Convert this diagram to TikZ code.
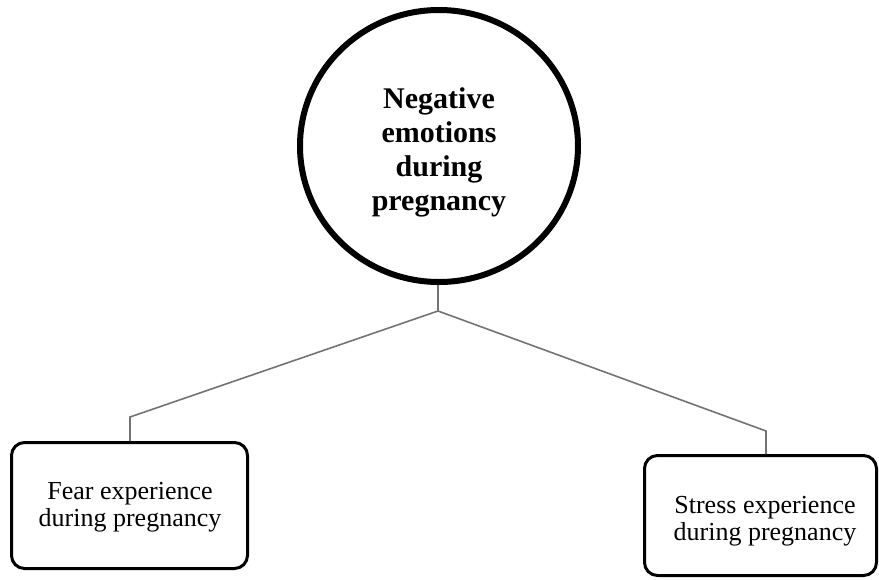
\documentclass[tikz,border=0pt]{standalone}
\usepackage{fontspec}
\setmainfont{Liberation Serif}
\usetikzlibrary{shapes.geometric}
\begin{document}
\begin{tikzpicture}[x=1pt,y=-1pt,
  mainnode/.style={draw=black, line width=6pt, ellipse, minimum width=278pt, minimum height=272pt, inner sep=0pt},
  maintext/.style={align=center, inner sep=0pt, font=\fontsize{30}{34}\selectfont\bfseries},
  leafbox/.style={draw=black, line width=3pt, rounded corners=13pt, inner sep=0pt},
  leaftext/.style={align=center, inner sep=0pt, font=\fontsize{26}{27}\selectfont},
  link/.style={draw=black!55, line width=1.6pt}
]
\useasboundingbox (0,0) rectangle (879,579);
\node[mainnode] (c) at (439,146) {};
\node[maintext] (ct) at (439,152) {Negative\\emotions\\during\\pregnancy};
\node[leafbox, minimum width=236pt, minimum height=126pt] (l) at (129.5,505.5) {};
\node[leaftext] (lt) at (130,507) {Fear experience\\during pregnancy};
\node[leafbox, minimum width=232pt, minimum height=120pt] (r) at (760.5,515.5) {};
\node[leaftext] (rt) at (765,521) {Stress experience\\during pregnancy};
\coordinate (j) at (438,311);
\coordinate (el) at (130,417);
\coordinate (er) at (766,431);
\draw[link] (c.south -| j) -- (j);
\draw[link] (j) -- (el) -- (el |- l.north);
\draw[link] (j) -- (er) -- (er |- r.north);
\end{tikzpicture}
\end{document}
